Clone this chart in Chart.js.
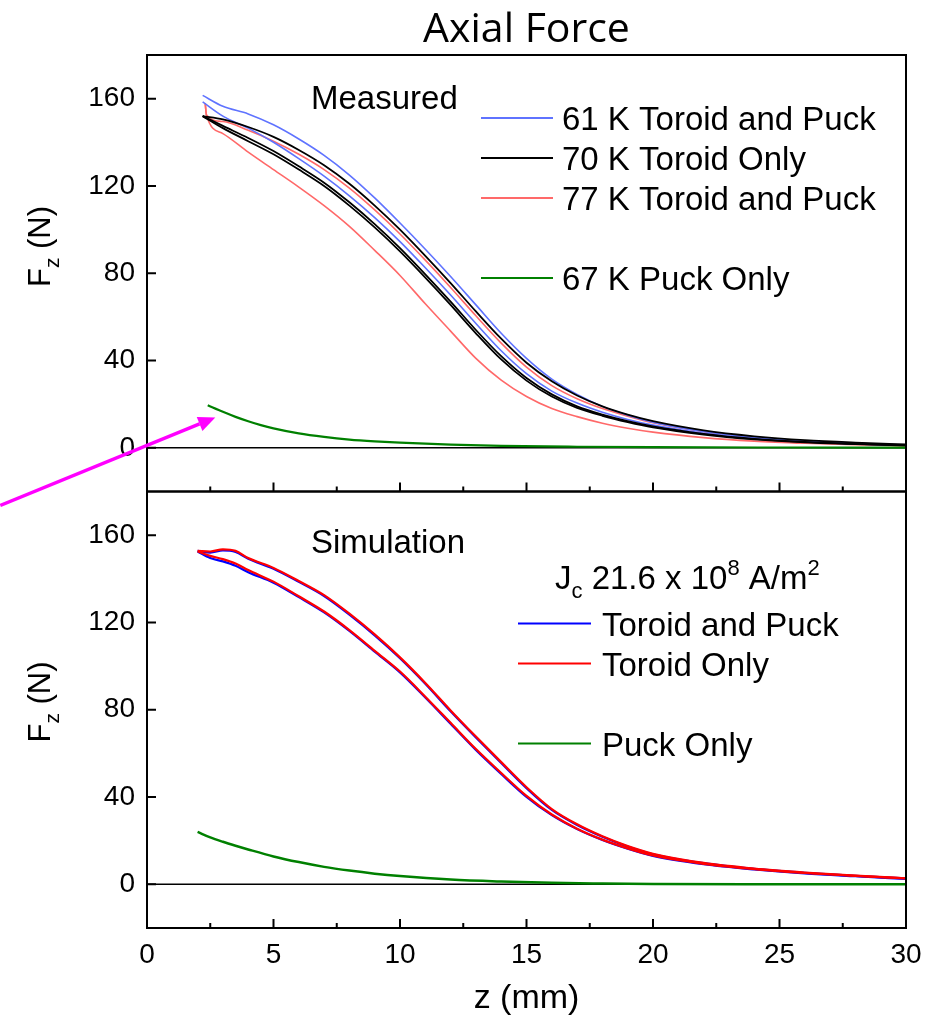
<!DOCTYPE html>
<html>
<head>
<meta charset="utf-8">
<title>Axial Force</title>
<script src="https://cdn.jsdelivr.net/npm/chart.js@4.4.0/dist/chart.umd.min.js"></script>
<style>
  html, body { margin: 0; padding: 0; background: #fff; }
  #wrap { position: relative; width: 938px; height: 1023px; }
</style>
</head>
<body>
<div id="wrap"><canvas id="myChart"></canvas></div>
<script>
// ---- data ----
// top panel: measured, two sweeps per run
const xMeas = [2.2, 3, 4, 5, 6, 7, 8, 9, 10, 11, 12, 13, 14, 15, 16, 17, 18, 19, 20, 22, 24, 26, 28, 30];
const blue61Up = [161.5, 156.5, 153, 148, 141.5, 134, 125, 114.5, 103, 91, 78.5, 65.5, 52.5, 41, 31.5, 24.5, 19, 15, 11.8, 7.5, 4.8, 3.1, 2.1, 1.3];
const blue61Down = [158.5, 152, 146.5, 140, 132.5, 124.5, 115.5, 105.5, 94.5, 82.5, 70, 57, 44.5, 34, 26, 20.5, 16.3, 13, 10.4, 6.7, 4.3, 2.8, 1.8, 1.2];
const black70Up = [152, 150.5, 147, 142.5, 136.5, 129.5, 121, 111, 100, 88, 75.5, 62.5, 50, 39, 30.5, 24, 19, 15.2, 12.2, 8, 5.3, 3.5, 2.4, 1.6];
const black70DownA = [152, 147.5, 142, 136, 129, 121.5, 112.5, 102.5, 91.5, 79.5, 67, 54, 42, 32, 24.5, 19, 15.2, 12.2, 9.8, 6.4, 4.1, 2.7, 1.8, 1.1];
const black70DownB = [152, 146.5, 140.5, 134.5, 127.5, 120, 111, 101, 90, 78, 65.5, 52.5, 40.5, 30.8, 23.5, 18.3, 14.7, 11.8, 9.4, 6.1, 3.9, 2.5, 1.7, 1];
const xRed = [2.3, 2.35, 3, 4, 5, 6, 7, 8, 9, 10, 11, 12, 13, 14, 15, 16, 17, 18, 19, 20, 22, 24, 26, 28, 30];
const red77Up = [158, 152.5, 149.5, 145.5, 140.5, 134.5, 127.5, 119, 109, 98, 86, 73.5, 60.5, 48, 37, 28.5, 22.5, 18, 14.5, 11.5, 7.4, 4.8, 3.1, 2.1, 1.3];
const red77Down = [158, 152.5, 144, 135.5, 127.5, 119.5, 111, 101.5, 90.5, 79, 66, 53.5, 41, 31, 23.5, 18, 14.3, 11.3, 9, 7.2, 4.7, 3.1, 2.1, 1.4, 0.9];
const xPuckMeas = [2.4, 3, 3.5, 4, 4.5, 5, 6, 7, 8, 9, 10, 12, 14, 17, 20, 25, 30];
const green67 = [19.5, 16.5, 14.2, 12.2, 10.4, 8.9, 6.6, 5, 3.8, 3, 2.4, 1.5, 0.9, 0.5, 0.3, 0.15, 0.1];

// bottom panel: simulation
const xSim = [2, 2.5, 3, 3.5, 4, 5, 6, 7, 8, 9, 10, 11, 12, 13, 14, 15, 16, 17, 18, 19, 20, 22, 24, 26, 28, 30];
const simTPUp = [152.8, 152, 153, 152.3, 149.2, 144.6, 138.6, 132.1, 123.6, 114.1, 103.6, 91.9, 79.3, 67.3, 55.6, 44.1, 34.1, 27.2, 21.8, 17.3, 13.8, 9.7, 7.1, 5.3, 3.9, 2.7];
const simTPDown = [152.5, 149.5, 148, 146, 143, 138.2, 131.6, 124.6, 116.1, 106.6, 97.1, 85.6, 73.6, 61.6, 50.6, 40.1, 31.7, 25.3, 20.3, 16.3, 13, 9.2, 6.8, 5, 3.7, 2.5];
const simTOUp = [152.8, 152.5, 153.5, 152.8, 149.5, 145, 139, 132.5, 124, 114.5, 104, 92.3, 79.7, 67.7, 56, 44.5, 34.5, 27.5, 22, 17.5, 14, 9.8, 7.2, 5.4, 4, 2.8];
const simTODown = [152.5, 150.5, 149, 147, 144, 138.7, 132, 125, 116.5, 107, 97.5, 86, 74, 62, 51, 40.5, 32, 25.5, 20.5, 16.5, 13.2, 9.4, 7, 5.2, 3.9, 2.7];
const xPuckSim = [2, 2.5, 3, 3.5, 4, 5, 6, 7, 8, 9, 10, 12, 14, 16, 18, 20, 25, 30];
const simPuck = [24, 21.5, 19.5, 17.7, 16, 12.8, 10.2, 8, 6.3, 4.9, 3.8, 2.2, 1.3, 0.7, 0.4, 0.2, 0.05, 0];

// axes
const xTicks = [0, 5, 10, 15, 20, 25, 30];
const xMinorTicks = [2.5, 7.5, 12.5, 17.5, 22.5, 27.5];
const yTicks = [0, 40, 80, 120, 160];

// legends (null = empty row)
const topLegend = ["61 K Toroid and Puck", "70 K Toroid Only", "77 K Toroid and Puck", null, "67 K Puck Only"];
const botLegend = ["Toroid and Puck", "Toroid Only", null, "Puck Only"];

// arrow annotation, in top-panel data units
const arrowFrom = [-5.8, -26.4];
const arrowTo = [2.7, 13.9];

const SANS = "'Liberation Sans', Arial, sans-serif";
const NARROW = "'Liberation Sans Narrow', 'Arial Narrow', 'Liberation Sans', sans-serif";

function pts(xs, ys) {
  return xs.map((x, i) => ({ x: x, y: ys[i] }));
}

function curve(label, xs, ys, color, width, axis) {
  return {
    label: label,
    data: pts(xs, ys),
    yAxisID: axis,
    borderColor: color,
    backgroundColor: color,
    borderWidth: width,
    showLine: true,
    pointRadius: 0,
    cubicInterpolationMode: "monotone",
    fill: false,
  };
}

const lightRed = "rgb(255,105,105)";
const lightBlue = "rgb(95,115,255)";

// chart.js paints the first dataset last, so the topmost lines come first
const datasets = [
  curve("67 K Puck Only", xPuckMeas, green67, "#008000", 2.2, "yTop"),
  curve("70 K Toroid Only", xMeas, black70Up, "#000", 1.8, "yTop"),
  curve("70 K Toroid Only", xMeas, black70DownA, "#000", 1.8, "yTop"),
  curve("70 K Toroid Only", xMeas, black70DownB, "#000", 1.8, "yTop"),
  curve("61 K Toroid and Puck", xMeas, blue61Up, lightBlue, 1.6, "yTop"),
  curve("61 K Toroid and Puck", xMeas, blue61Down, lightBlue, 1.6, "yTop"),
  curve("77 K Toroid and Puck", xRed, red77Up, lightRed, 1.6, "yTop"),
  curve("77 K Toroid and Puck", xRed, red77Down, lightRed, 1.6, "yTop"),
  curve("Puck Only", xPuckSim, simPuck, "#008000", 2.5, "yBot"),
  curve("Toroid Only", xSim, simTOUp, "#ff0000", 2.2, "yBot"),
  curve("Toroid Only", xSim, simTODown, "#ff0000", 2.2, "yBot"),
  curve("Toroid and Puck", xSim, simTPUp, "#0000ff", 2.2, "yBot"),
  curve("Toroid and Puck", xSim, simTPDown, "#0000ff", 2.2, "yBot"),
];

function findSet(chart, label, axis) {
  return chart.data.datasets.find((d) => d.label === label && d.yAxisID === axis);
}

// frame, zero line and inward ticks for both panels
const panelFrame = {
  id: "panelFrame",
  beforeDatasetsDraw(chart) {
    const { ctx, chartArea: a, scales } = chart;
    ctx.save();
    ctx.strokeStyle = "#000";
    ctx.lineWidth = 1.5;
    ["yTop", "yBot"].forEach((id) => {
      const y0 = scales[id].getPixelForValue(0);
      ctx.beginPath();
      ctx.moveTo(a.left, y0);
      ctx.lineTo(a.right, y0);
      ctx.stroke();
    });
    ctx.restore();
  },
  afterDatasetsDraw(chart) {
    const { ctx, chartArea: a, scales } = chart;
    const xs = scales.x;
    ctx.save();
    ctx.strokeStyle = "#000";
    ctx.lineWidth = 2;
    ["yTop", "yBot"].forEach((id) => {
      const s = scales[id];
      ctx.strokeRect(a.left, s.top, a.right - a.left, s.bottom - s.top);
      ctx.beginPath();
      yTicks.forEach((v) => {
        const p = s.getPixelForValue(v);
        ctx.moveTo(a.left, p);
        ctx.lineTo(a.left + 9, p);
      });
      xTicks.forEach((v) => {
        const p = xs.getPixelForValue(v);
        ctx.moveTo(p, s.bottom);
        ctx.lineTo(p, s.bottom - 9);
      });
      xMinorTicks.forEach((v) => {
        const p = xs.getPixelForValue(v);
        ctx.moveTo(p, s.bottom);
        ctx.lineTo(p, s.bottom - 5);
      });
      ctx.stroke();
    });
    ctx.restore();
  },
};

// legends, panel captions, y titles with subscripts, arrow
const annotations = {
  id: "annotations",
  afterDraw(chart) {
    const { ctx, chartArea: a, scales } = chart;
    const top = scales.yTop, bot = scales.yBot;
    ctx.save();
    ctx.fillStyle = "#000";
    ctx.textAlign = "left";
    ctx.textBaseline = "alphabetic";

    function legend(items, axis, rowY, x1, x2, tx) {
      items.forEach((label, i) => {
        if (!label) return;
        const ds = findSet(chart, label, axis);
        const y = rowY + i * 40;
        ctx.strokeStyle = ds.borderColor;
        ctx.lineWidth = 2;
        ctx.beginPath();
        ctx.moveTo(x1, y);
        ctx.lineTo(x2, y);
        ctx.stroke();
        ctx.font = "33px " + SANS;
        ctx.fillText(label, tx, y + 12);
      });
    }
    legend(topLegend, "yTop", top.top + 63, a.left + 334, a.left + 406, a.left + 415);
    legend(botLegend, "yBot", bot.top + 132, a.left + 371, a.left + 444, a.left + 455);

    // panel captions
    ctx.font = "33px " + SANS;
    ctx.fillText("Measured", a.left + 164, top.top + 54);
    ctx.fillText("Simulation", a.left + 164, bot.top + 61);

    // J_c 21.6 x 10^8 A/m^2
    let hx = a.left + 408;
    const hy = bot.top + 97;
    const parts = [
      ["J", 33, 0], ["c", 22, 9], [" 21.6 x 10", 33, 0], ["8", 22, -14], [" A/m", 33, 0], ["2", 22, -14],
    ];
    parts.forEach(([t, size, dy]) => {
      ctx.font = size + "px " + SANS;
      ctx.fillText(t, hx, hy + dy);
      hx += ctx.measureText(t).width;
    });

    // y titles: F_z (N)
    [[top, 232], [bot, 251]].forEach(([s, off]) => {
      ctx.save();
      ctx.translate(50, s.top + off);
      ctx.rotate(-Math.PI / 2);
      let px = 0;
      [["F", 31, 0], ["z", 21, 9], [" (N)", 31, 0]].forEach(([t, size, dy]) => {
        ctx.font = size + "px " + SANS;
        ctx.fillText(t, px, dy);
        px += ctx.measureText(t).width;
      });
      ctx.restore();
    });

    // magenta arrow
    const xs = scales.x;
    const x1 = xs.getPixelForValue(arrowFrom[0]), y1 = top.getPixelForValue(arrowFrom[1]);
    const x2 = xs.getPixelForValue(arrowTo[0]), y2 = top.getPixelForValue(arrowTo[1]);
    const ang = Math.atan2(y2 - y1, x2 - x1);
    const headLen = 17, headHalf = 7.5;
    const bx = x2 - headLen * Math.cos(ang), by = y2 - headLen * Math.sin(ang);
    ctx.strokeStyle = "#ff00ff";
    ctx.fillStyle = "#ff00ff";
    ctx.lineWidth = 3.5;
    ctx.beginPath();
    ctx.moveTo(x1, y1);
    ctx.lineTo(bx, by);
    ctx.stroke();
    ctx.beginPath();
    ctx.moveTo(x2, y2);
    ctx.lineTo(bx + headHalf * Math.sin(ang), by - headHalf * Math.cos(ang));
    ctx.lineTo(bx - headHalf * Math.sin(ang), by + headHalf * Math.cos(ang));
    ctx.closePath();
    ctx.fill();
    ctx.restore();
  },
};

function yScale() {
  return {
    type: "linear",
    position: "left",
    stack: "panels",
    stackWeight: 1,
    min: -20,
    max: 180,
    afterBuildTicks: (s) => {
      s.ticks = yTicks.map((v) => ({ value: v }));
    },
    afterFit: (s) => {
      s.width = 147;
    },
    grid: { display: false, drawTicks: false },
    border: { display: false },
    ticks: { color: "#000", padding: 12, font: { family: SANS, size: 28 } },
  };
}

Chart.defaults.font.family = SANS;
Chart.defaults.color = "#000";

const config = {
  type: "scatter",
  data: { datasets },
  options: {
    responsive: true,
    maintainAspectRatio: false,
    animation: false,
    devicePixelRatio: 1,
    layout: { padding: { top: 0, right: 32, bottom: 0, left: 0 } },
    plugins: {
      legend: { display: false },
      tooltip: { enabled: false },
      title: {
        display: true,
        text: "Axial Force",
        fullSize: false,
        color: "#000",
        font: { family: "'Open Sans', sans-serif", size: 41, weight: "normal", lineHeight: 1.1 },
        padding: { top: 8, bottom: 1.9 },
      },
    },
    scales: {
      x: {
        type: "linear",
        position: "bottom",
        min: 0,
        max: 30,
        afterBuildTicks: (s) => {
          s.ticks = xTicks.map((v) => ({ value: v }));
        },
        afterFit: (s) => {
          s.height = 95;
        },
        grid: { display: false, drawTicks: false },
        border: { display: false },
        ticks: { color: "#000", padding: 10, maxRotation: 0, font: { family: NARROW, size: 28 } },
        title: {
          display: true,
          text: "z (mm)",
          color: "#000",
          font: { family: NARROW, size: 34 },
          padding: { top: 0, bottom: 4 },
        },
      },
      yBot: yScale(),
      yTop: yScale(),
    },
  },
  plugins: [panelFrame, annotations],
};

const myChart = new Chart(document.getElementById("myChart"), config);
</script>
</body>
</html>
